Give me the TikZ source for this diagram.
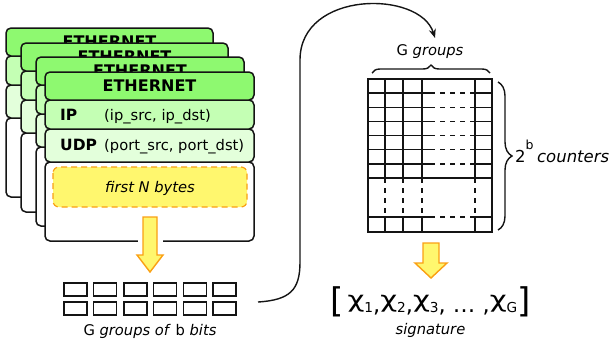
\documentclass[tikz,border=0pt]{standalone}
\usepackage{fontspec}
\setmainfont{DejaVu Sans}
\usetikzlibrary{decorations.pathreplacing,arrows.meta}
\definecolor{hdr}{RGB}{142,249,112}
\definecolor{ipc}{RGB}{196,255,180}
\definecolor{udpc}{RGB}{227,255,219}
\definecolor{ylw}{RGB}{255,247,110}
\definecolor{org}{RGB}{250,160,20}
\definecolor{ink}{RGB}{20,20,20}
\tikzset{
  cardline/.style={draw=ink, line width=1.5pt, rounded corners=5pt},
  txt/.style={font=\fontsize{14.7}{17}\selectfont, inner sep=0pt},
  boldtxt/.style={font=\fontsize{15.5}{18}\selectfont\bfseries, inner sep=0pt},
  ethtxt/.style={font=\fontsize{16}{19}\selectfont\bfseries, inner sep=0pt},
  blockarrow/.style={draw=org, fill=ylw, line width=1.4pt, line join=miter},
  bitbox/.style={draw=ink, line width=1.5pt, minimum width=23pt, minimum height=13pt, inner sep=0pt},
  gridl/.style={draw=ink, line width=1.5pt},
  gridd/.style={draw=ink, line width=1.5pt, dash pattern=on 5pt off 5pt},
  bracestyle/.style={draw=ink, line width=1.4pt, decorate},
}
% a stacked packet card: x0, y0, name prefix, width, full contents (1) or header only (0)
\newcommand{\pktcard}[5]{%
  \draw[cardline, fill=white] (#1,#2+90) rectangle (#1+#4,#2+169);
  \draw[cardline, fill=udpc] (#1,#2+57) rectangle (#1+#4,#2+90);
  \draw[cardline, fill=ipc] (#1,#2+28) rectangle (#1+#4,#2+57);
  \draw[cardline, fill=hdr] (#1,#2) rectangle (#1+#4,#2+28);
  \node[ethtxt, anchor=base] (#3eth) at (#1+#4/2,#2+19.7) {ETHERNET};
  \ifnum#5=1
  \node[boldtxt, anchor=base west] (#3ip) at (#1+15,#2+48) {IP};
  \node[txt, anchor=base west] (#3ipf) at (#1+59,#2+48) {(ip\_src, ip\_dst)};
  \node[boldtxt, anchor=base west] (#3udp) at (#1+15,#2+78.5) {UDP};
  \node[txt, anchor=base west] (#3udpf) at (#1+59,#2+78.5) {(port\_src, port\_dst)};
  \fi
}
\newcommand{\sgchi}[1]{\raisebox{0.2em}{\scalebox{1.3}[1]{χ}}{\fontsize{13.7}{16}\selectfont #1}}
\begin{document}
\begin{tikzpicture}[x=1pt,y=-1pt]
\useasboundingbox (0,0) rectangle (609,346);
% packet cards
\pktcard{6}{28}{ca}{207}{0}
\pktcard{21}{43}{cb}{207}{0}
\pktcard{36}{57}{cc}{208}{0}
\pktcard{45}{72}{cd}{209}{1}
\draw[draw=org, fill=ylw, line width=1.2pt, dash pattern=on 6pt off 4pt, rounded corners=6pt] (53,167) rectangle (247,207);
\node[txt, anchor=base] (firstn) at (150,192) {\itshape first N bytes};
% arrow 1
\fill[white] (138,235) rectangle (163,247);
\draw[blockarrow] (143,217) -- (157,217) -- (157,255) -- (163,255) -- (150,272) -- (137,255) -- (143,255) -- cycle;
% bit groups
\foreach \i/\cx in {0/75.5,1/105,2/135.5,3/165,4/195,5/224.5}{
  \node[bitbox] (ba\i) at (\cx,289.5) {};
  \node[bitbox] (bb\i) at (\cx,308.5) {};
}
\node[txt, anchor=base] (bitslabel) at (150,335) {G \textit{groups of} b \textit{bits}};
% connector
\coordinate (cs) at (258,302);
\coordinate (ce) at (435,38);
\draw[draw=ink, line width=1.4pt, -{Stealth[length=9pt,width=7pt]}] (cs) .. controls (290,300) and (300,290) .. (300,262) -- (300,60) .. controls (300,-10) and (420,-10) .. (ce);
% grid
\draw[gridl] (368,79) rectangle (492,232);
\foreach \x in {385,403,422,475}{
  \draw[gridl] (\x,79) -- (\x,178);
  \draw[gridd] (\x,178) -- (\x,217);
  \draw[gridl] (\x,217) -- (\x,232);
}
\foreach \y in {93.14,107.28,121.42,135.56,149.7,163.84,217}{
  \draw[gridl] (368,\y) -- (430,\y);
  \draw[gridd] (430,\y) -- (475,\y);
  \draw[gridl] (475,\y) -- (492,\y);
}
\draw[gridl] (368,178) -- (492,178);
\draw[bracestyle, decoration={brace, amplitude=8pt}] (372,73) -- (490,73);
\draw[bracestyle, decoration={brace, amplitude=14pt}] (498,82) -- (498,230);
\node[txt, anchor=base] (ggroups) at (430,55) {G \textit{groups}};
\node[inner sep=0pt, anchor=base west] (counters) at (515,162) {\fontsize{16.5}{19}\selectfont 2\raisebox{12.7pt}{\fontsize{12.5}{14}\selectfont b}\hspace{3.5pt}\textit{counters}};
% arrow 2
\draw[blockarrow] (423,243) -- (439,243) -- (439,263) -- (447,263) -- (431,278) -- (415,263) -- (423,263) -- cycle;
% signature
\node[inner sep=0pt, anchor=base] (sig) at (430.5,312) {\fontsize{22.5}{26}\selectfont{\fontsize{34}{40}\selectfont[}\,\sgchi{1},\sgchi{2},\sgchi{3}, … ,\sgchi{G}{\fontsize{34}{40}\selectfont]}};
\node[txt, anchor=base] (siglabel) at (430.5,334) {\itshape signature};
\end{tikzpicture}
\end{document}
